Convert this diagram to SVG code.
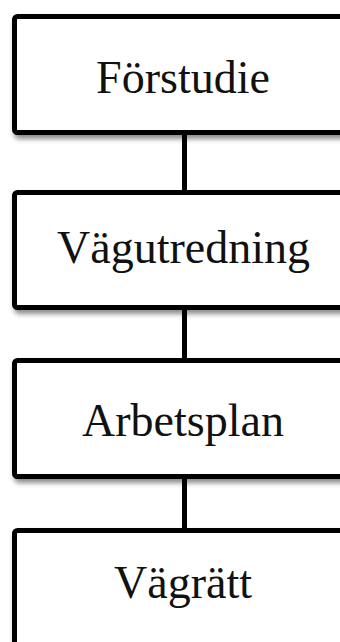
<svg xmlns="http://www.w3.org/2000/svg" width="340" height="642" viewBox="0 0 340 642">
  <defs>
    <filter id="shadow" x="-10%" y="-10%" width="130%" height="140%">
      <feDropShadow dx="2" dy="4" stdDeviation="2.5" flood-color="#000" flood-opacity="0.45"/>
    </filter>
    <style>
      .box { fill: #fff; stroke: #000; stroke-width: 5; filter: url(#shadow); }
      .label { font-family: "Liberation Serif", "Times New Roman", serif; font-size: 46px; fill: #111; text-anchor: middle; }
      .link { stroke: #000; stroke-width: 5; fill: none; }
    </style>
  </defs>
  <rect width="340" height="642" fill="#fff"/>

  <g id="connectors">
    <line class="link" x1="184.5" y1="132.5" x2="184.5" y2="192.5"/>
    <line class="link" x1="184.5" y1="307.5" x2="184.5" y2="360.5"/>
    <line class="link" x1="184.5" y1="476.5" x2="184.5" y2="530.5"/>
  </g>

  <g id="forstudie">
    <rect class="box" x="14.5" y="16.5" width="345" height="116" rx="3"/>
    <text class="label" x="183" y="93">Förstudie</text>
  </g>

  <g id="vagutredning">
    <rect class="box" x="14.5" y="192.5" width="345" height="115" rx="3"/>
    <text class="label" x="183.5" y="263">Vägutredning</text>
  </g>

  <g id="arbetsplan">
    <rect class="box" x="14.5" y="360.5" width="345" height="116" rx="3"/>
    <text class="label" x="183" y="436">Arbetsplan</text>
  </g>

  <g id="vagratt">
    <rect class="box" x="14.5" y="530.5" width="345" height="120" rx="3"/>
    <text class="label" x="183" y="598">Vägrätt</text>
  </g>
</svg>
